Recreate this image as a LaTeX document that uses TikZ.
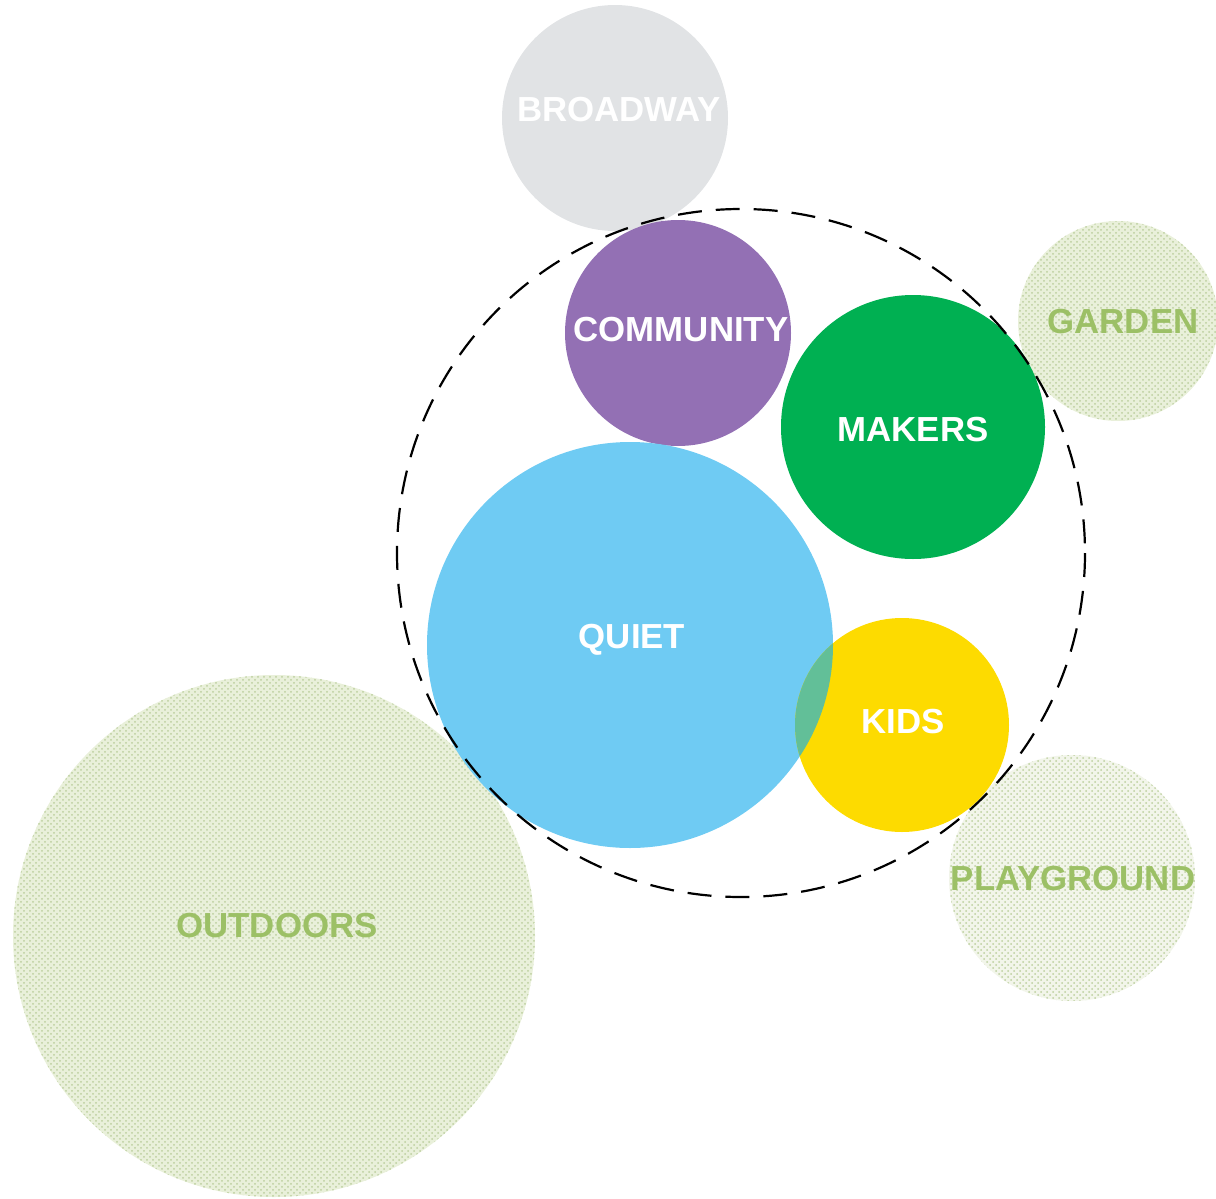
\documentclass[tikz,border=0pt]{standalone}
\usepackage{fontspec}
\setmainfont{Liberation Sans}
\usetikzlibrary{patterns}
\definecolor{broadgray}{HTML}{E1E3E5}
\definecolor{commpurple}{HTML}{9370B4}
\definecolor{makegreen}{HTML}{00B052}
\definecolor{quietblue}{HTML}{6FCBF3}
\definecolor{kidsyellow}{HTML}{FDDB00}
\definecolor{lensgreen}{HTML}{62BF98}
\definecolor{grassbg}{HTML}{E9F0DA}
\definecolor{palegrass}{HTML}{F2F5EA}
\definecolor{grassdot}{HTML}{BCCF9E}
\definecolor{grasstext}{HTML}{9CC066}
\begin{document}
\begin{tikzpicture}[x=0.5pt,y=-0.5pt,line join=round,line cap=round,
  font=\fontsize{17.4}{20}\selectfont\bfseries,
  lbl/.style={text=white,inner sep=0pt},
  greenlbl/.style={text=grasstext,inner sep=0pt},
  grass/.style={fill=#1,postaction={pattern=crosshatch dots,pattern color=grassdot}},
  grass/.default=grassbg]
\useasboundingbox (0,0) rectangle (1216,1199);
% outside
\fill[grass] (274,936) circle[radius=261];
\fill[grass] (1118,321) circle[radius=100];
\fill[grass=palegrass] (1072,878) circle[radius=123];
\fill[broadgray] (615,118) circle[radius=113];
% rooms
\fill[commpurple] (678,333) circle[radius=113];
\fill[makegreen] (913,427) circle[radius=132];
\fill[quietblue] (630,645) circle[radius=203];
\fill[kidsyellow] (902,725) circle[radius=107];
\begin{scope}
\clip (630,645) circle[radius=203];
\fill[lensgreen] (902,725) circle[radius=107];
\end{scope}
% boundary
\draw[line width=1.1pt,dash pattern=on 12pt off 7pt,line cap=butt] (741,553) circle[radius=344];
% labels
\node[lbl] (broadway) at (619,110) {BROADWAY};
\node[lbl] (community) at (681,330) {COMMUNITY};
\node[lbl] (makers) at (913,430) {MAKERS};
\node[lbl] (quiet) at (632,640) {QUIET};
\node[lbl] (kids) at (903,722) {KIDS};
\node[greenlbl] (garden) at (1123,322) {GARDEN};
\node[greenlbl] (playground) at (1073,879) {PLAYGROUND};
\node[greenlbl] (outdoors) at (277,926) {OUTDOORS};
\end{tikzpicture}
\end{document}
